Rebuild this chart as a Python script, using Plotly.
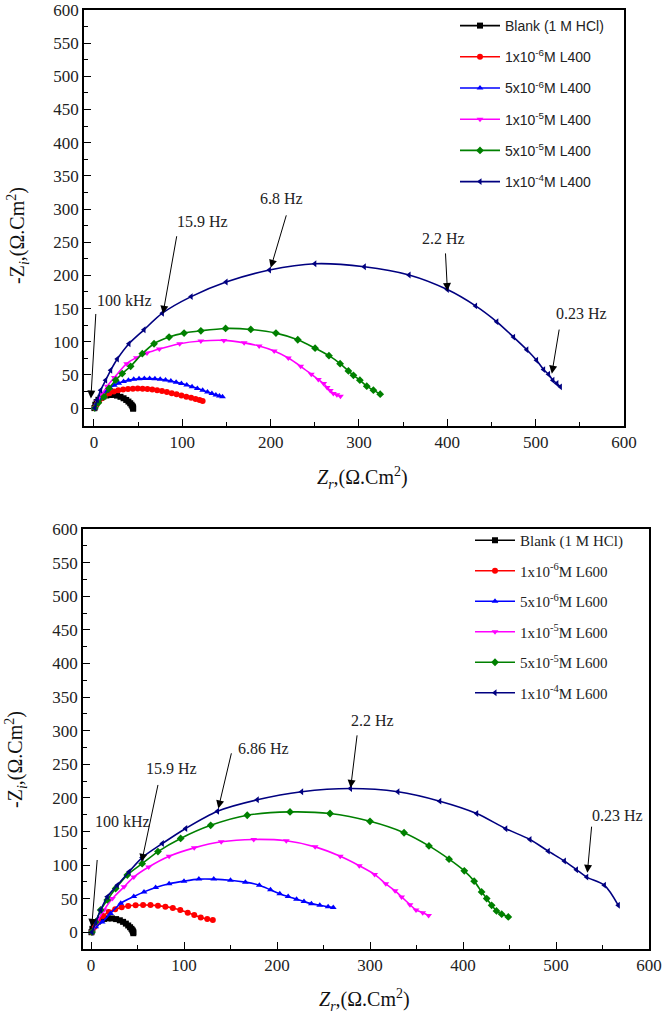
import plotly.graph_objects as go

# ---------------- data: legend names ----------------
names_top = ["Blank (1 M HCl)", "1x10<sup>-6</sup>M L400", "5x10<sup>-6</sup>M L400",
             "1x10<sup>-5</sup>M L400", "5x10<sup>-5</sup>M L400", "1x10<sup>-4</sup>M L400"]
names_bot = ["Blank (1 M HCl)", "1x10<sup>-6</sup>M L600", "5x10<sup>-6</sup>M L600",
             "1x10<sup>-5</sup>M L600", "5x10<sup>-5</sup>M L600", "1x10<sup>-4</sup>M L600"]

# ---------------- data: top panel (L400) ----------------
t_blank_x = [0.5, 1.5, 3, 5, 7.5, 10.5, 14, 18, 22, 26, 30, 33.5, 36.5, 39, 41, 42.5, 43.5, 44, 44.3, 44.3]
t_blank_y = [0, 5, 9, 12.5, 15.5, 17.5, 19, 19.8, 19.8, 18.8, 17, 14.8, 12.3, 9.8, 7.3, 5, 3, 1.5, 0.3, -1]
t_r1_x = [1, 3, 5.5, 9, 13, 17.5, 22.5, 27.5, 33, 38.5, 44, 49.5, 55, 60.5, 66, 71.5, 77, 82.5, 88, 93.5, 99, 104.5, 110, 115, 119.5, 123]
t_r1_y = [0, 5, 10, 15, 19.5, 22.5, 25, 26.8, 28, 28.8, 29.3, 29.5, 29.3, 28.8, 28, 27, 25.7, 24.2, 22.5, 20.8, 19, 17.2, 15.4, 13.7, 12, 10.6]
t_b5_x = [1, 3, 6, 9.5, 13.5, 18, 23, 28, 33.5, 39, 45, 51, 57, 63, 69, 75, 81, 87, 93, 99, 105, 111, 117, 123, 128.5, 133.5, 138, 142, 145.5]
t_b5_y = [0, 7, 14, 20, 25.5, 30.5, 34.5, 37.5, 40, 42, 43.3, 44.2, 44.6, 44.6, 44.2, 43.4, 42.2, 40.8, 39, 37, 34.8, 32.3, 29.6, 26.8, 24.2, 21.9, 19.9, 18.2, 17]
t_m1_x = [1, 4, 9, 15, 23, 37, 48, 60, 74, 97, 121, 147, 170, 187, 204, 220, 234, 246, 254, 260, 264, 267.5, 271, 275, 279]
t_m1_y = [0, 10, 21, 33, 46, 67, 76, 83, 89, 97, 101, 102, 98.3, 93.5, 86, 75.5, 63, 51, 43, 37, 31, 26.5, 22, 20, 18]
t_g5_x = [1, 5, 11.3, 17, 24.5, 32, 41.5, 54.7, 68, 85, 102, 121, 149, 177.5, 206, 230.7, 250.3, 266, 278.6, 288, 293.7, 301, 308.8, 316.3, 324]
t_g5_y = [0, 8, 17, 29.5, 42, 52, 63, 82, 97, 107, 113, 116.5, 120, 118.5, 113, 103, 90.3, 79, 67, 56, 49.4, 42, 33, 27, 21]
t_n4_x = [1, 3.7, 7.6, 13.2, 18.9, 26.4, 39.6, 56.6, 77.4, 110, 149.5, 198.6, 250, 306, 356.7, 400, 432, 456, 475, 490, 501, 509, 514.6, 519.5, 524, 528]
t_n4_y = [0, 12, 27, 42, 57, 74, 97, 118, 143, 168, 190, 208, 217.5, 213, 200.6, 178.6, 154, 130, 107, 88, 72, 58, 51, 42, 37, 32]

# ---------------- data: bottom panel (L600) ----------------
b_blank_x = [0.5, 1.5, 3, 5, 7.5, 10.5, 14, 18, 22.5, 27, 31, 34.5, 37.5, 40, 42, 43.5, 44.5, 45, 45.5, 45.5]
b_blank_y = [0, 5, 9.5, 13, 16, 18.3, 19.8, 20.5, 20.5, 19.5, 17.7, 15.4, 12.8, 10, 7.4, 5, 3, 1.5, 0.2, -1.5]
b_r1_x = [1, 4, 8, 13, 19, 26, 33, 40, 48, 56, 64, 72, 80, 88, 96, 104, 111, 118, 125, 131]
b_r1_y = [0, 8, 16, 24, 30, 34, 37, 39, 40, 40.5, 40.3, 39.5, 38, 36, 33, 29, 25.5, 22, 19.5, 18]
b_b5_x = [1, 5, 12, 21, 32, 46, 57, 69.5, 84, 100, 116, 132, 150, 166, 181, 193, 203, 212, 221, 229, 237, 246, 255, 260.5]
b_b5_y = [0, 8, 15, 28, 43, 53, 60, 66.5, 72, 76, 79, 79, 77.4, 74.5, 70, 63, 57.4, 53, 49, 45.5, 42.5, 40, 37.7, 36.6]
b_m1_x = [1, 6, 14, 23, 35.5, 46, 62, 84, 111, 140, 175, 210, 241, 268, 288.5, 305, 317, 327, 334, 343, 349.5, 356.7, 363]
b_m1_y = [0, 14, 33, 50, 67.5, 82, 97, 113, 125.5, 134.5, 138, 136, 127, 113, 99, 86, 72, 61.5, 52.5, 41, 33, 29, 25]
b_g5_x = [1, 5, 10.4, 17.5, 26.5, 39, 55, 72, 96.4, 128.7, 168, 214, 257, 300, 336.6, 363.4, 385, 401.4, 412, 420, 425.5, 430.8, 436, 441.6, 448.7]
b_g5_y = [0, 15, 33, 48, 65, 85, 102, 120, 139.5, 159, 174, 179, 176.6, 165, 148, 128.4, 108.7, 91.3, 76, 60, 50, 40, 31.7, 26.8, 22.8]
b_n4_x = [1, 5, 10.4, 17.5, 28.3, 41, 55, 76.7, 101.8, 136, 178.8, 226.5, 279, 330, 375, 414.7, 446, 472, 491.7, 509, 522, 533, 552, 567]
b_n4_y = [0, 15, 33, 52.6, 70, 90, 111, 132, 154.4, 180, 197, 209, 213.8, 209, 195, 176.6, 154, 138, 120.6, 106, 93, 82, 70, 40]

# ---------------- frequency labels ----------------
top_freq_labels = ["100 kHz", "15.9 Hz", "6.8 Hz", "2.2 Hz", "0.23 Hz"]
top_head_x = [-3.5, 78.1, 200.1, 400.1, 518.3]
top_head_y = [14.5, 142.2, 211.4, 176.6, 51.9]
top_text_x = [35, 122.3, 211.8, 395.2, 551.5]
top_text_y = [161.7, 281.4, 315.9, 256, 142.2]
bot_freq_labels = ["100 kHz", "15.9 Hz", "6.86 Hz", "2.2 Hz", "0.23 Hz"]
bot_head_x = [0.75, 54.5, 136.9, 279.2, 533.7]
bot_head_y = [7.9, 104.7, 184.2, 214.8, 88.3]
bot_text_x = [33.9, 86.6, 186, 303.2, 566.1]
bot_text_y = [164.2, 244.2, 274, 315.6, 174.2]

# ---------------- styling ----------------
colors = ["#000000", "#FF0000", "#0000FF", "#FF00FF", "#008000", "#000080"]
symbols = ["square", "circle", "triangle-up", "triangle-down", "diamond", "triangle-left"]
SERIF = "Liberation Serif, Times New Roman, serif"
SANS = "Liberation Sans, Arial, sans-serif"
# arrow tail offsets (pixels, relative to arrow head)
top_arrow_dx = [5, 14, 16, -2, 7.6]
top_arrow_dy = [-86, -79, -54, -39, -45.6]
bot_arrow_dx = [5.6, 16.6, 13.4, 6.6, 4.4]
bot_arrow_dy = [-68.4, -78.4, -56.6, -54, -47.7]

fig = go.Figure()

top_series = [(t_blank_x, t_blank_y), (t_r1_x, t_r1_y), (t_b5_x, t_b5_y),
              (t_m1_x, t_m1_y), (t_g5_x, t_g5_y), (t_n4_x, t_n4_y)]
bot_series = [(b_blank_x, b_blank_y), (b_r1_x, b_r1_y), (b_b5_x, b_b5_y),
              (b_m1_x, b_m1_y), (b_g5_x, b_g5_y), (b_n4_x, b_n4_y)]

for i, (xs, ys) in enumerate(top_series):
    fig.add_trace(go.Scatter(
        x=xs, y=ys, name=names_top[i], mode="lines+markers",
        line=dict(color=colors[i], width=1.6, shape="spline", smoothing=0.8),
        marker=dict(symbol=symbols[i], size=6, color=colors[i]),
        xaxis="x", yaxis="y", legend="legend", legendgroup="t%d" % i))

for i, (xs, ys) in enumerate(bot_series):
    fig.add_trace(go.Scatter(
        x=xs, y=ys, name=names_bot[i], mode="lines+markers",
        line=dict(color=colors[i], width=1.6, shape="spline", smoothing=0.8),
        marker=dict(symbol=symbols[i], size=6, color=colors[i]),
        xaxis="x2", yaxis="y2", legend="legend2", legendgroup="b%d" % i))

W, H = 664, 1018

def axis_common():
    return dict(
        showline=True, linecolor="black", linewidth=1.5, mirror=True,
        ticks="inside", ticklen=7, tickwidth=1.2, tickcolor="black",
        showgrid=False, zeroline=False,
        tickfont=dict(family=SERIF, size=17, color="#222"),
        ticklabeloverflow="allow",
        automargin=False,
    )

annotations = []
for k in range(5):
    annotations.append(dict(
        xref="x", yref="y", x=top_head_x[k], y=top_head_y[k],
        ax=top_arrow_dx[k], ay=top_arrow_dy[k],
        text="", showarrow=True, arrowhead=2, arrowsize=1.6, arrowwidth=1,
        arrowcolor="black"))
    annotations.append(dict(
        xref="x", yref="y", x=top_text_x[k], y=top_text_y[k],
        text=top_freq_labels[k], showarrow=False,
        font=dict(family=SERIF, size=16, color="#222")))
for k in range(5):
    annotations.append(dict(
        xref="x2", yref="y2", x=bot_head_x[k], y=bot_head_y[k],
        ax=bot_arrow_dx[k], ay=bot_arrow_dy[k],
        text="", showarrow=True, arrowhead=2, arrowsize=1.6, arrowwidth=1,
        arrowcolor="black"))
    annotations.append(dict(
        xref="x2", yref="y2", x=bot_text_x[k], y=bot_text_y[k],
        text=bot_freq_labels[k], showarrow=False,
        font=dict(family=SERIF, size=16, color="#222")))

# axis titles
annotations += [
    dict(xref="paper", yref="paper", x=362 / W, y=1 - 478 / H, xanchor="center", yanchor="middle",
         text="<i>Z<sub>r</sub></i>,(Ω.Cm<sup>2</sup>)", showarrow=False,
         font=dict(family=SERIF, size=20, color="#111")),
    dict(xref="paper", yref="paper", x=365 / W, y=1 - 1000 / H, xanchor="center", yanchor="middle",
         text="<i>Z<sub>r</sub></i>,(Ω.Cm<sup>2</sup>)", showarrow=False,
         font=dict(family=SERIF, size=20, color="#111")),
    dict(xref="paper", yref="paper", x=18 / W, y=1 - 236 / H, xanchor="center", yanchor="middle",
         text="-Z<sub><i>i</i></sub>,(Ω.Cm<sup>2</sup>)", showarrow=False, textangle=-90,
         font=dict(family=SERIF, size=20, color="#111")),
    dict(xref="paper", yref="paper", x=16 / W, y=1 - 760 / H, xanchor="center", yanchor="middle",
         text="-Z<sub><i>i</i></sub>,(Ω.Cm<sup>2</sup>)", showarrow=False, textangle=-90,
         font=dict(family=SERIF, size=20, color="#111")),
]

xa1 = axis_common()
xa1.update(domain=[84 / W, 624 / W], range=[-11.3, 600], anchor="y",
           tickmode="array", tickvals=[0, 100, 200, 300, 400, 500, 600],
           minor=dict(tickmode="array", tickvals=[50, 150, 250, 350, 450, 550],
                      ticks="inside", ticklen=4, tickcolor="black"))
ya1 = axis_common()
ya1.update(domain=[1 - 426 / H, 1 - 10 / H], range=[-27, 600], anchor="x",
           tickmode="array", tickvals=list(range(0, 601, 50)),
           minor=dict(tickmode="array", tickvals=list(range(25, 600, 50)),
                      ticks="inside", ticklen=4, tickcolor="black"))
xa2 = axis_common()
xa2.update(domain=[83 / W, 649 / W], range=[-8.6, 600], anchor="y2",
           tickmode="array", tickvals=[0, 100, 200, 300, 400, 500, 600],
           minor=dict(tickmode="array", tickvals=[50, 150, 250, 350, 450, 550],
                      ticks="inside", ticklen=4, tickcolor="black"))
ya2 = axis_common()
ya2.update(domain=[1 - 949 / H, 1 - 529 / H], range=[-25, 600], anchor="x2",
           tickmode="array", tickvals=list(range(0, 601, 50)),
           minor=dict(tickmode="array", tickvals=list(range(25, 600, 50)),
                      ticks="inside", ticklen=4, tickcolor="black"))

fig.update_layout(
    width=W, height=H, margin=dict(l=0, r=0, t=0, b=0),
    paper_bgcolor="white", plot_bgcolor="white",
    xaxis=xa1, yaxis=ya1, xaxis2=xa2, yaxis2=ya2,
    annotations=annotations,
    legend=dict(x=455 / W, y=1 - 10 / H, xanchor="left", yanchor="top",
                xref="paper", yref="paper", bgcolor="rgba(0,0,0,0)",
                font=dict(family=SANS, size=14, color="#222"),
                tracegroupgap=10, itemwidth=40),
    legend2=dict(x=470 / W, y=1 - 524 / H, xanchor="left", yanchor="top",
                 xref="paper", yref="paper", bgcolor="rgba(0,0,0,0)",
                 font=dict(family=SERIF, size=15, color="#222"),
                 tracegroupgap=8, itemwidth=40),
)

fig.write_html("out.html", config={"displayModeBar": False},
               post_script="document.body.style.margin='0px';")
